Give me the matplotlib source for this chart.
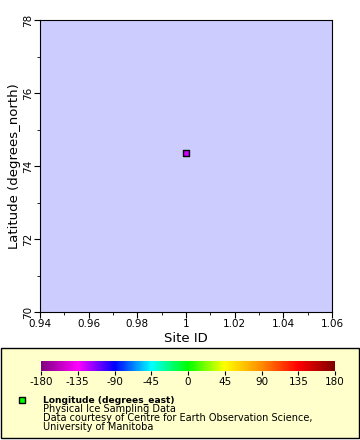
import matplotlib
matplotlib.use("Agg")
from matplotlib import pyplot as plt
from matplotlib.colors import LinearSegmentedColormap, Normalize
from matplotlib.patches import Rectangle
import matplotlib.colorbar as mcolorbar

plt.rcParams["axes.unicode_minus"] = False

# data
site_id = [1.0]
latitude = [74.36]
longitude = [-126.0]

x_ticks = [0.94, 0.96, 0.98, 1.0, 1.02, 1.04, 1.06]
x_labels = ["0.94", "0.96", "0.98", "1", "1.02", "1.04", "1.06"]
y_ticks = [70, 72, 74, 76, 78]
cbar_ticks = [-180, -135, -90, -45, 0, 45, 90, 135, 180]
legend_lines = ["Physical Ice Sampling Data",
                "Data courtesy of Centre for Earth Observation Science,",
                "University of Manitoba"]

rainbow = LinearSegmentedColormap.from_list(
    "rainbow_erddap",
    ["#800080", "#FF00FF", "#0000FF", "#00FFFF", "#00FF00",
     "#FFFF00", "#FF8C00", "#FF0000", "#800000"])
norm = Normalize(vmin=-180, vmax=180)

W, H = 360, 440
fig = plt.figure(figsize=(W / 100, H / 100), dpi=100)

ax = fig.add_axes([40 / W, 1 - 312 / H, 292 / W, 292 / H])
ax.set_facecolor("#CCCCFF")
ax.scatter(site_id, latitude, c=longitude, cmap=rainbow, norm=norm,
           marker="s", s=22, edgecolors="black", linewidths=1, zorder=3)
ax.set_xlim(0.94, 1.06)
ax.set_ylim(70, 78)
ax.set_xticks(x_ticks)
ax.set_xticklabels(x_labels)
ax.set_xticks([0.95, 0.97, 0.99, 1.01, 1.03, 1.05], minor=True)
ax.set_yticks(y_ticks)
ax.set_yticks([71, 73, 75, 77], minor=True)
ax.tick_params(axis="both", which="major", length=4, labelsize=7.5, pad=1)
ax.tick_params(axis="both", which="minor", length=2)
for lbl in ax.get_yticklabels():
    lbl.set_rotation(90)
    lbl.set_va("center")
ax.set_xlabel("Site ID", fontsize=9.5, labelpad=2)
ax.set_ylabel("Latitude (degrees_north)", fontsize=9.5)
ax.yaxis.set_label_coords(-19 / 292, 0.5)

# legend panel
fig.patches.append(Rectangle((1 / W, 1 - 438 / H), 358 / W, 90 / H,
                             transform=fig.transFigure, facecolor="#FFFFCC",
                             edgecolor="black", linewidth=1, zorder=-5))

cax = fig.add_axes([41 / W, 1 - 371 / H, 294 / W, 10 / H])
cax.set_zorder(5)
cb = mcolorbar.ColorbarBase(cax, cmap=rainbow, norm=norm,
                            orientation="horizontal", ticks=cbar_ticks)
cb.outline.set_visible(False)
cax.tick_params(labelsize=7.5, length=3, pad=1)

fig.add_artist(Rectangle((19 / W, 1 - 403 / H), 6 / W, 6 / H,
                         transform=fig.transFigure, facecolor="#00FF00",
                         edgecolor="black", linewidth=1, zorder=6))
fig.text(43 / W, 1 - 400 / H, "Longitude (degrees_east)", fontsize=6.6,
         fontweight="bold", va="center", zorder=6)
for i, line in enumerate(legend_lines):
    fig.text(43 / W, 1 - (409 + 9 * i) / H, line, fontsize=7, va="center",
             zorder=6)

fig.savefig("out.png", dpi=100)
